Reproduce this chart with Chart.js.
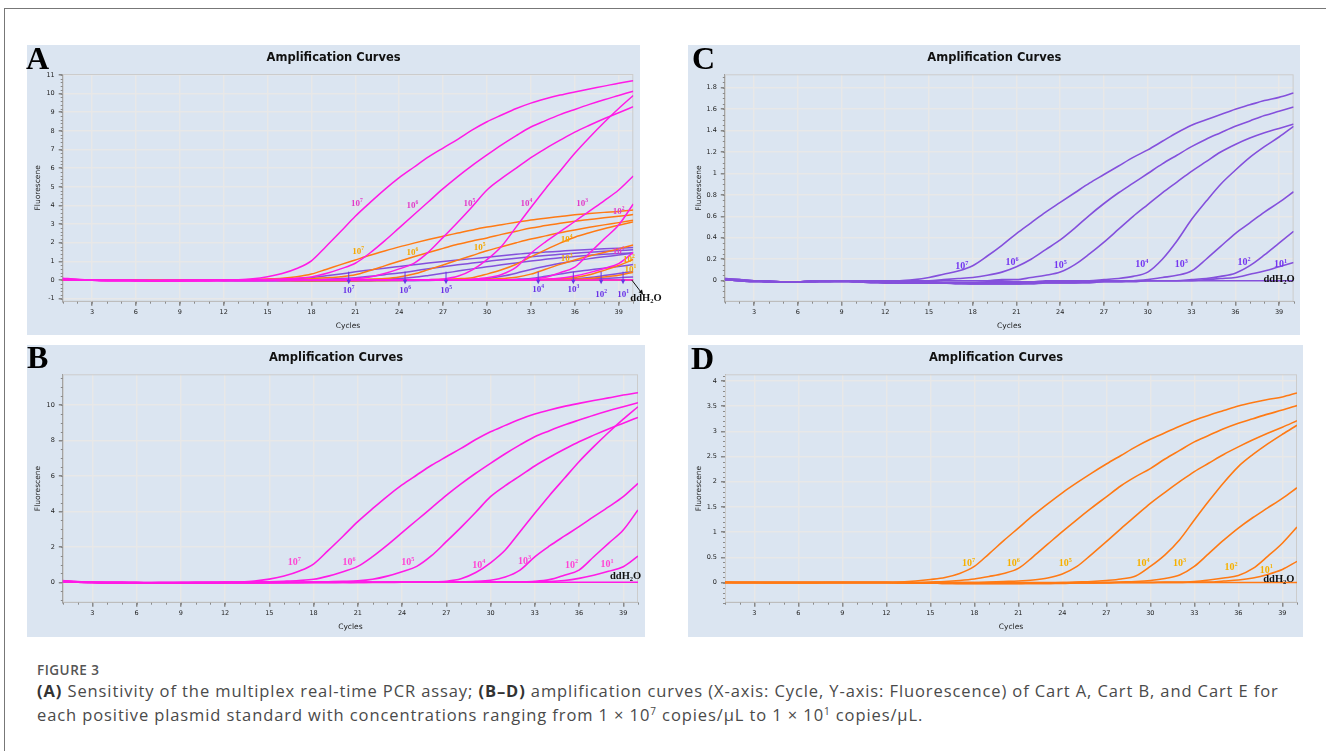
<!DOCTYPE html>
<html lang="en">
<head>
<meta charset="UTF-8">
<title>Figure 3 - Amplification Curves</title>
<script src="https://cdn.jsdelivr.net/npm/chart.js@4.4.1/dist/chart.umd.min.js"></script>
<style>
  body { margin: 0; background: #fff; width: 1326px; height: 751px; position: relative; overflow: hidden; font-family: "Open Sans", sans-serif; }
  .frame { position: absolute; left: 4px; top: 8px; width: 1400px; height: 800px; border-top: 1px solid #777; border-left: 1px solid #777; }
  .panel { position: absolute; background: #dbe5f1; }
  .plot { position: absolute; }
  .tag { position: absolute; font: bold 32px/32px "Liberation Serif", serif; color: #000; }
  .fig { position: absolute; left: 37px; top: 662px; font-size: 13.5px; line-height: 16px; font-weight: 600; letter-spacing: 0.5px; color: #555; }
  .cap { position: absolute; left: 37px; top: 679px; font-size: 16.5px; line-height: 24px; letter-spacing: 0.9px; color: #4a4a4a; white-space: nowrap; }
  .cap b { color: #333; }
  .cap sup { font-size: 10px; line-height: 0; vertical-align: 6px; }
</style>
</head>
<body>
<div class="frame"></div>

<div class="panel" style="left:27px;top:45px;width:613px;height:290px"></div>
<canvas id="chartA" class="plot" width="650" height="290" style="left:27px;top:45px"></canvas>
<div class="panel" style="left:688px;top:45px;width:612px;height:290px"></div>
<canvas id="chartC" class="plot" width="630" height="290" style="left:688px;top:45px"></canvas>
<div class="panel" style="left:27px;top:345px;width:618px;height:292px"></div>
<canvas id="chartB" class="plot" width="640" height="292" style="left:27px;top:345px"></canvas>
<div class="panel" style="left:688px;top:345px;width:615px;height:292px"></div>
<canvas id="chartD" class="plot" width="630" height="292" style="left:688px;top:345px"></canvas>

<div class="tag" style="left:26px;top:42px">A</div>
<div class="tag" style="left:692px;top:42px">C</div>
<div class="tag" style="left:27px;top:341px">B</div>
<div class="tag" style="left:691px;top:342px">D</div>

<div class="fig">FIGURE 3</div>
<div class="cap"><b>(A)</b> Sensitivity of the multiplex real-time PCR assay; <b>(B–D)</b> amplification curves (X-axis: Cycle, Y-axis: Fluorescence) of Cart A, Cart B, and Cart E for<br>each positive plasmid standard with concentrations ranging from 1 × 10<sup>7</sup> copies/μL to 1 × 10<sup>1</sup> copies/μL.</div>

<script>
// cycles and ticks
const cycles = [1, 2, 3, 4, 5, 6, 7, 8, 9, 10, 11, 12, 13, 14, 15, 16, 17, 18, 19, 20,
                21, 22, 23, 24, 25, 26, 27, 28, 29, 30, 31, 32, 33, 34, 35, 36, 37, 38, 39, 40];
const xTicks = [3, 6, 9, 12, 15, 18, 21, 24, 27, 30, 33, 36, 39];
const yTicksA = [-1, 0, 1, 2, 3, 4, 5, 6, 7, 8, 9, 10, 11];
const yTicksB = [0, 2, 4, 6, 8, 10];
const yTicksC = [0, 0.2, 0.4, 0.6, 0.8, 1, 1.2, 1.4, 1.6, 1.8];
const yTicksD = [0, 0.5, 1, 1.5, 2, 2.5, 3, 3.5, 4];
const exponents = [7, 6, 5, 4, 3, 2, 1];

// Cart A (magenta), 10^7 .. 10^1 copies/uL
const magenta7 = [0.10, 0.04, 0.00, -0.02, -0.02, -0.02, -0.02, -0.02, -0.02, -0.01,
  -0.01, 0.00, 0.02, 0.07, 0.18, 0.35, 0.62, 1.03, 1.80, 2.60,
  3.42, 4.15, 4.85, 5.49, 6.05, 6.60, 7.08, 7.55, 8.05, 8.49,
  8.85, 9.20, 9.49, 9.72, 9.92, 10.09, 10.25, 10.40, 10.56, 10.69];
const magenta6 = [0.08, 0.03, 0.00, -0.02, -0.02, -0.03, -0.03, -0.03, -0.02, -0.02,
  -0.02, -0.01, 0.00, 0.01, 0.03, 0.06, 0.10, 0.17, 0.35, 0.60,
  0.90, 1.45, 2.10, 2.80, 3.50, 4.20, 4.90, 5.55, 6.15, 6.71,
  7.25, 7.75, 8.21, 8.55, 8.87, 9.15, 9.42, 9.67, 9.90, 10.13];
const magenta5 = [0.06, 0.02, -0.01, -0.02, -0.02, -0.02, -0.03, -0.03, -0.03, -0.02,
  -0.02, -0.02, -0.01, -0.01, 0.00, 0.00, 0.00, 0.01, 0.03, 0.05,
  0.08, 0.17, 0.35, 0.60, 0.90, 1.50, 2.29, 3.10, 3.95, 4.83,
  5.45, 6.00, 6.56, 7.05, 7.50, 7.93, 8.30, 8.65, 8.97, 9.30];
const magenta4 = [0.05, 0.01, -0.01, -0.02, -0.02, -0.03, -0.03, -0.03, -0.03, -0.02,
  -0.02, -0.02, -0.02, -0.02, -0.01, -0.01, -0.01, 0.00, 0.00, 0.00,
  0.00, 0.00, 0.01, 0.01, 0.01, 0.02, 0.06, 0.20, 0.55, 1.10,
  1.82, 2.85, 3.89, 4.90, 5.85, 6.80, 7.65, 8.45, 9.20, 9.90];
const magenta3 = [0.04, 0.01, -0.01, -0.02, -0.02, -0.02, -0.03, -0.03, -0.03, -0.03,
  -0.02, -0.02, -0.02, -0.02, -0.02, -0.01, -0.01, -0.01, -0.01, 0.00,
  0.00, 0.00, 0.00, 0.00, 0.01, 0.01, 0.01, 0.02, 0.05, 0.12,
  0.30, 0.69, 1.44, 2.05, 2.60, 3.14, 3.70, 4.25, 4.83, 5.58];
const magenta2 = [0.04, 0.00, -0.01, -0.02, -0.02, -0.03, -0.03, -0.03, -0.03, -0.03,
  -0.03, -0.02, -0.02, -0.02, -0.02, -0.02, -0.01, -0.01, -0.01, -0.01,
  0.00, 0.00, 0.00, 0.00, 0.00, 0.00, 0.01, 0.01, 0.01, 0.01,
  0.01, 0.02, 0.05, 0.15, 0.40, 0.69, 1.44, 2.20, 2.95, 4.08];
const magenta1 = [0.03, 0.00, -0.01, -0.02, -0.02, -0.02, -0.03, -0.03, -0.03, -0.03,
  -0.03, -0.02, -0.02, -0.02, -0.02, -0.02, -0.02, -0.01, -0.01, -0.01,
  -0.01, 0.00, 0.00, 0.00, 0.00, 0.00, 0.00, 0.01, 0.01, 0.01,
  0.01, 0.01, 0.02, 0.04, 0.10, 0.22, 0.40, 0.62, 0.88, 1.48];

// Cart B (purple)
const purple7 = [0.02, 0.01, 0.00, 0.00, -0.01, -0.01, 0.00, 0.00, 0.00, 0.00,
  0.00, 0.00, 0.00, 0.01, 0.03, 0.06, 0.09, 0.14, 0.23, 0.33,
  0.44, 0.54, 0.64, 0.73, 0.82, 0.91, 0.99, 1.07, 1.15, 1.22,
  1.30, 1.38, 1.45, 1.50, 1.55, 1.60, 1.64, 1.68, 1.71, 1.75];
const purple6 = [0.02, 0.01, 0.00, 0.00, -0.01, -0.01, 0.00, 0.00, 0.00, 0.00,
  -0.01, -0.01, 0.00, 0.00, 0.00, 0.01, 0.02, 0.03, 0.05, 0.08,
  0.13, 0.20, 0.29, 0.38, 0.49, 0.61, 0.72, 0.82, 0.91, 1.00,
  1.09, 1.17, 1.25, 1.32, 1.38, 1.44, 1.49, 1.54, 1.58, 1.62];
const purple5 = [0.01, 0.01, 0.00, -0.01, -0.01, -0.01, 0.00, 0.00, 0.00, -0.01,
  -0.01, -0.01, -0.01, -0.01, 0.00, 0.00, 0.00, 0.00, 0.00, 0.01,
  0.01, 0.03, 0.05, 0.08, 0.15, 0.25, 0.36, 0.48, 0.60, 0.71,
  0.82, 0.92, 1.02, 1.11, 1.20, 1.27, 1.33, 1.38, 1.42, 1.46];
const purple4 = [0.01, 0.00, 0.00, -0.01, -0.01, -0.01, -0.01, 0.00, 0.00, -0.01,
  -0.01, -0.01, -0.02, -0.02, -0.02, -0.02, -0.02, -0.02, -0.01, -0.01,
  -0.01, -0.01, 0.00, 0.00, 0.00, 0.00, 0.01, 0.02, 0.04, 0.08,
  0.20, 0.37, 0.57, 0.74, 0.90, 1.03, 1.15, 1.25, 1.34, 1.44];
const purple3 = [0.01, 0.00, 0.00, -0.01, -0.01, -0.01, -0.01, -0.01, 0.00, -0.01,
  -0.01, -0.02, -0.02, -0.02, -0.02, -0.02, -0.02, -0.02, -0.02, -0.02,
  -0.02, -0.02, -0.01, -0.01, -0.01, -0.01, 0.00, 0.00, 0.00, 0.01,
  0.03, 0.05, 0.09, 0.20, 0.32, 0.44, 0.54, 0.64, 0.73, 0.83];
const purple2 = [0.01, 0.00, -0.01, -0.01, -0.01, -0.01, -0.01, -0.01, -0.01, -0.01,
  -0.02, -0.02, -0.02, -0.02, -0.02, -0.02, -0.03, -0.03, -0.03, -0.03,
  -0.03, -0.02, -0.02, -0.02, -0.02, -0.01, -0.01, -0.01, 0.00, 0.00,
  0.00, 0.00, 0.01, 0.02, 0.04, 0.07, 0.14, 0.24, 0.35, 0.46];
const purple1 = [0.01, 0.00, -0.01, -0.01, -0.01, -0.01, -0.01, -0.01, -0.01, -0.01,
  -0.01, -0.02, -0.02, -0.02, -0.02, -0.02, -0.02, -0.03, -0.03, -0.03,
  -0.03, -0.03, -0.02, -0.02, -0.02, -0.02, -0.01, -0.01, -0.01, 0.00,
  0.00, 0.00, 0.00, 0.01, 0.02, 0.03, 0.06, 0.09, 0.13, 0.17];

// Cart E (orange)
const orange7 = [0.00, 0.00, 0.00, 0.00, 0.00, 0.00, 0.00, 0.00, 0.00, 0.00,
  0.00, 0.00, 0.01, 0.03, 0.06, 0.10, 0.18, 0.32, 0.57, 0.83,
  1.08, 1.33, 1.56, 1.78, 1.98, 2.17, 2.35, 2.52, 2.69, 2.84,
  2.97, 3.10, 3.22, 3.32, 3.41, 3.50, 3.57, 3.63, 3.68, 3.76];
const orange6 = [0.00, 0.00, 0.00, 0.00, 0.00, 0.00, 0.00, 0.00, 0.00, 0.00,
  0.00, 0.00, 0.00, 0.00, 0.01, 0.02, 0.04, 0.07, 0.12, 0.18,
  0.28, 0.51, 0.76, 1.01, 1.25, 1.48, 1.70, 1.92, 2.10, 2.26,
  2.45, 2.62, 2.79, 2.92, 3.05, 3.16, 3.25, 3.34, 3.42, 3.51];
const orange5 = [0.00, 0.00, 0.00, 0.00, 0.00, 0.00, 0.00, 0.00, 0.00, 0.00,
  0.00, 0.00, 0.00, 0.00, 0.00, 0.00, 0.00, 0.00, 0.01, 0.02,
  0.03, 0.05, 0.09, 0.17, 0.32, 0.56, 0.81, 1.07, 1.32, 1.57,
  1.79, 2.00, 2.20, 2.37, 2.54, 2.69, 2.83, 2.96, 3.08, 3.21];
const orange4 = [0.00, 0.00, 0.00, 0.00, 0.00, 0.00, 0.00, 0.00, 0.00, 0.00,
  0.00, 0.00, 0.00, -0.01, -0.01, -0.01, -0.01, -0.01, -0.01, -0.01,
  0.00, 0.00, 0.00, 0.00, 0.01, 0.02, 0.04, 0.07, 0.13, 0.32,
  0.55, 0.85, 1.24, 1.62, 1.98, 2.30, 2.54, 2.75, 2.94, 3.12];
const orange3 = [0.00, 0.00, 0.00, 0.00, 0.00, 0.00, 0.00, 0.00, 0.00, 0.00,
  0.00, 0.00, 0.00, -0.01, -0.01, -0.01, -0.02, -0.02, -0.02, -0.02,
  -0.02, -0.01, -0.01, -0.01, 0.00, 0.00, 0.00, 0.01, 0.02, 0.04,
  0.08, 0.15, 0.32, 0.58, 0.84, 1.08, 1.29, 1.48, 1.67, 1.88];
const orange2 = [0.00, 0.00, 0.00, 0.00, 0.00, 0.00, 0.00, 0.00, 0.00, 0.00,
  0.00, 0.00, 0.00, -0.01, -0.01, -0.02, -0.02, -0.02, -0.02, -0.02,
  -0.02, -0.02, -0.02, -0.01, -0.01, -0.01, 0.00, 0.00, 0.00, 0.00,
  0.01, 0.01, 0.02, 0.05, 0.09, 0.14, 0.28, 0.52, 0.78, 1.10];
const orange1 = [0.00, 0.00, 0.00, 0.00, 0.00, 0.00, 0.00, 0.00, 0.00, 0.00,
  0.00, 0.00, -0.01, -0.01, -0.01, -0.02, -0.02, -0.02, -0.02, -0.02,
  -0.02, -0.02, -0.02, -0.02, -0.01, -0.01, -0.01, 0.00, 0.00, 0.00,
  0.00, 0.00, 0.01, 0.01, 0.03, 0.05, 0.09, 0.16, 0.26, 0.42];

// ddH2O negative control
const ntc = [0.01, 0.00, 0.00, -0.01, -0.01, -0.01, -0.01, 0.00, 0.00, 0.00,
  0.00, 0.00, -0.01, -0.01, -0.01, 0.00, 0.00, 0.00, 0.00, 0.00,
  -0.01, -0.01, -0.01, 0.00, 0.00, 0.00, 0.00, 0.00, 0.00, 0.00,
  0.00, 0.00, 0.00, 0.00, 0.00, 0.00, 0.00, 0.00, 0.00, 0.00];

// label anchors (cycle, fluorescence), order 10^7 .. 10^1
const labelsAMagenta = [[21.1, 4.08], [24.9, 4.0], [28.8, 4.08], [32.7, 4.12], [36.5, 4.12], [39.0, 3.65], [39.0, 1.5]];
const labelsAOrange = [[21.2, 1.51], [24.9, 1.46], [29.5, 1.73], [35.45, 2.16], [35.45, 1.14], [39.7, 1.09], [39.8, 0.55]];
const arrowsA = [20.55, 24.4, 27.2, 33.5, 35.9, 37.8, 39.3];
const labelsB = [[16.7, 1.1], [20.4, 1.1], [24.4, 1.1], [29.2, 0.98], [32.3, 1.2], [35.5, 0.96], [37.9, 1.0]];
const labelsC = [[17.25, 0.13], [20.7, 0.17], [24.0, 0.14], [29.6, 0.15], [32.3, 0.15], [36.6, 0.17], [39.1, 0.15]];
const labelsD = [[17.6, 0.37], [20.65, 0.37], [24.2, 0.37], [29.5, 0.37], [32.0, 0.37], [35.5, 0.30], [37.9, 0.25]];

const MAGENTA = '#ff1ae6', PURPLE = '#8450dc', ORANGE = '#ff7a14';

function line(values, color, width) {
  return {
    data: cycles.map((c, i) => ({ x: c, y: values[i] })),
    borderColor: color, borderWidth: width, pointRadius: 0,
    cubicInterpolationMode: 'monotone', fill: false
  };
}

const magentaRuns = [magenta7, magenta6, magenta5, magenta4, magenta3, magenta2, magenta1, ntc];
const purpleRuns = [purple7, purple6, purple5, purple4, purple3, purple2, purple1, ntc];
const orangeRuns = [orange7, orange6, orange5, orange4, orange3, orange2, orange1, ntc];

// text "10" with a superscript exponent, centred on x
function pow10(ctx, x, y, exp, color, size) {
  ctx.fillStyle = color;
  ctx.textAlign = 'left';
  ctx.textBaseline = 'middle';
  ctx.font = 'bold ' + size + 'px "Liberation Serif"';
  const w1 = ctx.measureText('10').width;
  ctx.font = 'bold ' + (size * 0.62) + 'px "Liberation Serif"';
  const w2 = ctx.measureText(String(exp)).width;
  const x0 = x - (w1 + w2) / 2;
  ctx.font = 'bold ' + size + 'px "Liberation Serif"';
  ctx.fillText('10', x0, y);
  ctx.font = 'bold ' + (size * 0.62) + 'px "Liberation Serif"';
  ctx.fillText(String(exp), x0 + w1, y - size * 0.35);
}

function water(ctx, x, y, size) {
  ctx.fillStyle = '#111';
  ctx.textAlign = 'left';
  ctx.textBaseline = 'middle';
  ctx.font = 'bold ' + size + 'px "Liberation Serif"';
  ctx.fillText('ddH', x, y);
  const w = ctx.measureText('ddH').width;
  ctx.font = 'bold ' + (size * 0.62) + 'px "Liberation Serif"';
  ctx.fillText('2', x + w, y + size * 0.3);
  const w2 = ctx.measureText('2').width;
  ctx.font = 'bold ' + size + 'px "Liberation Serif"';
  ctx.fillText('O', x + w + w2, y);
}

function arrowHead(ctx, x1, y1, x2, y2, len, color) {
  const a = Math.atan2(y2 - y1, x2 - x1);
  ctx.fillStyle = color;
  ctx.beginPath();
  ctx.moveTo(x2, y2);
  ctx.lineTo(x2 - len * Math.cos(a - 0.45), y2 - len * Math.sin(a - 0.45));
  ctx.lineTo(x2 - len * Math.cos(a + 0.45), y2 - len * Math.sin(a + 0.45));
  ctx.closePath();
  ctx.fill();
}

const noteSets = {
  A: {
    groups: [
      { pts: labelsAMagenta, color: '#e23cc8', size: 9 },
      { pts: labelsAOrange, color: '#f5a800', size: 9 }
    ],
    arrows: { at: arrowsA, from: 0.45, to: -0.22, labelAt: [-0.55, -0.55, -0.55, -0.5, -0.5, -0.78, -0.78], color: '#6a32e6' },
    water: { at: [39.8, -0.96], from: [39.9, 0.0], to: [40.6, -0.72] }
  },
  B: { groups: [{ pts: labelsB, color: '#ff45d4', size: 10 }], water: { at: [38.1, 0.32] } },
  C: { groups: [{ pts: labelsC, color: '#7436f0', size: 10 }], water: { at: [37.93, 0.013] } },
  D: { groups: [{ pts: labelsD, color: '#f7b000', size: 10 }], water: { at: [37.7, 0.07] } }
};

const noteMarks = {
  id: 'notes',
  afterDatasetsDraw(chart, args, opts) {
    const set = noteSets[opts.panel];
    const { ctx, scales: { x, y } } = chart;
    ctx.save();
    set.groups.forEach(g => g.pts.forEach((p, i) => {
      pow10(ctx, x.getPixelForValue(p[0]), y.getPixelForValue(p[1]), exponents[i], g.color, g.size);
    }));
    if (set.arrows) {
      const ar = set.arrows;
      ctx.strokeStyle = ar.color;
      ctx.lineWidth = 1;
      ar.at.forEach((c, i) => {
        const px = x.getPixelForValue(c);
        const y1 = y.getPixelForValue(ar.from), y2 = y.getPixelForValue(ar.to);
        ctx.beginPath();
        ctx.moveTo(px, y1);
        ctx.lineTo(px, y2 - 3);
        ctx.stroke();
        arrowHead(ctx, px, y1, px, y2, 5, ar.color);
        pow10(ctx, px, y.getPixelForValue(ar.labelAt[i]), exponents[i], ar.color, 9);
      });
    }
    const w = set.water;
    if (w.from) {
      const x1 = x.getPixelForValue(w.from[0]), y1 = y.getPixelForValue(w.from[1]);
      const x2 = x.getPixelForValue(w.to[0]), y2 = y.getPixelForValue(w.to[1]);
      ctx.strokeStyle = '#111';
      ctx.lineWidth = 1;
      ctx.beginPath();
      ctx.moveTo(x1, y1);
      ctx.lineTo(x2, y2);
      ctx.stroke();
      arrowHead(ctx, x1, y1, x2 + 1, y2 + 1, 5, '#111');
    }
    water(ctx, x.getPixelForValue(w.at[0]), y.getPixelForValue(w.at[1]), 10.5);
    ctx.restore();
  }
};

// plot frame and minor ticks
const frame = {
  id: 'frame',
  beforeDatasetsDraw(chart, args, opts) {
    const { ctx, chartArea: a, scales: { x, y } } = chart;
    ctx.save();
    ctx.strokeStyle = '#cccccc';
    ctx.lineWidth = 1;
    ctx.strokeRect(a.left + 0.5, a.top + 0.5, a.width - 1, a.height - 1);
    ctx.strokeStyle = '#8a8a8a';
    ctx.beginPath();
    for (let c = Math.ceil(x.min); c <= x.max; c++) {
      const px = Math.round(x.getPixelForValue(c)) + 0.5;
      ctx.moveTo(px, a.bottom);
      ctx.lineTo(px, a.bottom + 2);
    }
    const step = opts.yMinor;
    for (let v = Math.ceil(y.min / step) * step; v <= y.max; v += step) {
      const py = Math.round(y.getPixelForValue(v)) + 0.5;
      ctx.moveTo(a.left - 2, py);
      ctx.lineTo(a.left, py);
    }
    ctx.stroke();
    ctx.restore();
  }
};

function drawPanel(id, panel, area, yTicks, yMin, yMax, yMinor, datasets) {
  const canvas = document.getElementById(id);
  const padLeft = 7, xAxisH = 30;
  return new Chart(canvas, {
    type: 'line',
    data: { datasets: datasets },
    options: {
      responsive: false,
      animation: false,
      devicePixelRatio: 1,
      events: [],
      layout: { padding: { left: padLeft, top: 0, right: canvas.width - area.right, bottom: canvas.height - area.bottom - xAxisH } },
      plugins: {
        legend: { display: false },
        tooltip: { enabled: false },
        title: {
          display: true, text: 'Amplification Curves', color: '#111',
          font: { family: 'DejaVu Sans', size: 11.5, weight: 'bold' },
          padding: { top: 6, bottom: area.top - 6 - 13.8 }
        },
        frame: { yMinor: yMinor },
        notes: { panel: panel }
      },
      scales: {
        x: {
          type: 'linear', min: 1, max: 40,
          afterBuildTicks: s => { s.ticks = xTicks.map(v => ({ value: v })); },
          afterFit: s => { s.height = xAxisH; },
          grid: { color: '#e8e8e8', lineWidth: 1.5, tickLength: 4, tickColor: '#888' },
          border: { color: '#999' },
          ticks: { font: { family: 'DejaVu Sans', size: 6.5 }, color: '#222', padding: 3, maxRotation: 0, autoSkip: false, callback: v => String(v) },
          title: { display: true, text: 'Cycles', color: '#222', font: { family: 'DejaVu Sans', size: 7.5 }, padding: { top: 0, bottom: 1.5 } }
        },
        y: {
          min: yMin, max: yMax,
          afterBuildTicks: s => { s.ticks = yTicks.map(v => ({ value: v })); },
          afterFit: s => { s.width = area.left - padLeft; },
          grid: { color: '#e8e8e8', lineWidth: 1.5, tickLength: 4, tickColor: '#888' },
          border: { color: '#999' },
          ticks: { font: { family: 'DejaVu Sans', size: 6.5 }, color: '#222', padding: 4, autoSkip: false, callback: v => String(v) },
          title: { display: true, text: 'Fluorescene', color: '#222', font: { family: 'DejaVu Sans', size: 7.5 }, padding: { top: 0, bottom: 0 } }
        }
      }
    },
    plugins: [frame, noteMarks]
  });
}

const dsA = magentaRuns.map(v => line(v, MAGENTA, 1.5))
  .concat(orangeRuns.map(v => line(v, ORANGE, 1.5)))
  .concat(purpleRuns.map(v => line(v, PURPLE, 1.5)));

drawPanel('chartA', 'A', { left: 35.7, top: 29, right: 606.3, bottom: 256.7 }, yTicksA, -1.16, 11.05, 0.2, dsA);
drawPanel('chartB', 'B', { left: 35.8, top: 29.3, right: 611, bottom: 257.7 }, yTicksB, -1.15, 11.73, 0.5,
  magentaRuns.map(v => line(v, MAGENTA, 1.6)));
drawPanel('chartC', 'C', { left: 36.8, top: 29.3, right: 605.6, bottom: 256.7 }, yTicksC, -0.196, 1.925, 0.05,
  purpleRuns.map(v => line(v, PURPLE, 1.6)));
drawPanel('chartD', 'D', { left: 37, top: 29.3, right: 609, bottom: 257.7 }, yTicksD, -0.4, 4.13, 0.1,
  orangeRuns.map(v => line(v, ORANGE, 1.6)));
</script>
</body>
</html>
